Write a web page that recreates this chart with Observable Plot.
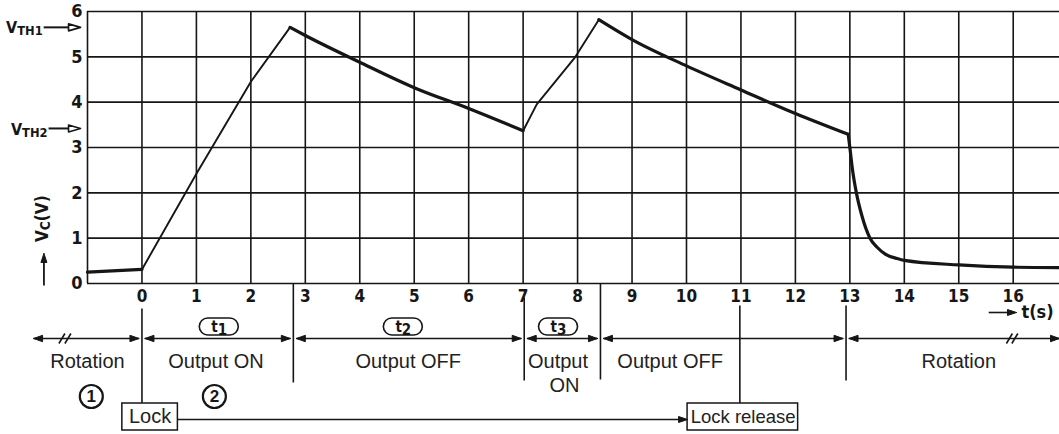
<!DOCTYPE html>
<html><head><meta charset="utf-8">
<script src="https://cdn.jsdelivr.net/npm/d3@7"></script>
<script src="https://cdn.jsdelivr.net/npm/@observablehq/plot@0.6"></script>
<style>
html,body{margin:0;padding:0;background:#fff;}
#chart svg{display:block;}
</style>
</head><body><div id="chart"></div>
<script>
// ---- data ----
const timeS   = [-1, 0, 1, 2, 2.72, 3, 4, 5, 6, 7, 7.25, 7.96, 8.39, 9, 10, 11, 12, 12.97, 13.0, 13.05, 13.12, 13.22, 13.37, 13.5, 13.65, 13.87, 14, 15, 16, 16.85];
const vcVolts = [0.25, 0.31, 2.42, 4.45, 5.65, 5.47, 4.88, 4.32, 3.86, 3.37, 3.95, 5, 5.82, 5.38, 4.8, 4.27, 3.75, 3.29, 3.0, 2.5, 2.0, 1.5, 1.0, 0.8, 0.65, 0.55, 0.51, 0.41, 0.36, 0.35];
const xTickLabels = [0,1,2,3,4,5,6,7,8,9,10,11,12,13,14,15,16];
const yTickLabels = [0,1,2,3,4,5,6];
const thresholdNames = ["VTH1", "VTH2"];
const thresholdVolts = [5.65, 3.42];
const phaseBounds = [-1.99, 0, 2.78, 7.02, 8.42, 12.93, 16.85];
const intervalNames = ["t1", "t2", "t3"];
const intervalCenters = [1.42, 4.80, 7.65];
const phaseNames = ["Rotation", "Output ON", "Output OFF", "Output", "ON", "Output OFF", "Rotation"];
const phaseNameX = [-1.0, 1.36, 4.89, 7.64, 7.76, 9.70, 15.0];
const stepNames = ["1", "2"];
const stepX = [-0.93, 1.33];
const lockTime = 0, releaseTime = 10.98;

// ---- layout helpers ----
const W = 1059, H = 434, mL = 87, mT = 11, mB = 151, mR = 0;
const xDom = [-1, 16.85], yDom = [0, 6];
const kx = (xDom[1]-xDom[0])/(W-mL-mR);     // data units per px (x)
const ky = (yDom[1]-yDom[0])/(H-mT-mB);     // data units per px (y)
const pyv = px => -(px - (H - mB)) * ky;    // px below axis -> data y

const ink = "#161616";
const tech = "DejaVu Sans Condensed, Liberation Sans Narrow, DejaVu Sans, sans-serif";
const sans = "Liberation Sans, Arial, sans-serif";

// split curve into rising / falling runs (new run also when the fall steepens sharply)
const curve = timeS.map((t, i) => ({t, v: vcVolts[i]}));
const runs = [];
let prevSlope = null;
for (let i = 1; i < curve.length; i++) {
  const slope = (curve[i].v - curve[i-1].v) / (curve[i].t - curve[i-1].t);
  const up = curve[i].v > curve[i-1].v + 0.2;
  const last = runs[runs.length - 1];
  const steepen = prevSlope !== null && Math.abs(slope) > 3*Math.abs(prevSlope) + 1;
  if (last && last.up === up && !steepen) last.pts.push(curve[i]);
  else runs.push({up, pts: [curve[i-1], curve[i]]});
  prevSlope = slope;
}
const risePts = [], fallPts = [];
runs.forEach((r, k) => r.pts.forEach(p => (r.up ? risePts : fallPts).push({...p, run: k})));

let hid = 0;
function head(x, y, dir, L = 9, hh = 3.2) {
  const id = hid++;
  return [{x, y, id}, {x: x - dir*L*kx, y: y + hh*ky, id}, {x: x - dir*L*kx, y: y - hh*ky, id}, {x, y, id}];
}

// row levels (px below the plot)
const yArrow = pyv(338), yLabel = pyv(361), yLabel2 = pyv(385), yStep = pyv(396);
const yBoxTop = pyv(403), yBoxBot = pyv(430), yBoxMid = pyv(416.5), yConn = pyv(419);

// interval arrows
const segs = [], heads = [];
for (let i = 0; i < phaseBounds.length - 1; i++) {
  const a = phaseBounds[i] + (i === 0 ? 0 : 3*kx);
  const b = phaseBounds[i+1] - (i === phaseBounds.length - 2 ? 0 : 3*kx);
  segs.push({x1: a, x2: b});
  heads.push(...head(a, yArrow, -1), ...head(b, yArrow, 1));
}
// boundary verticals
const verts = [
  {x: lockTime, y1: pyv(308), y2: yBoxTop},
  {x: phaseBounds[2], y1: 0, y2: pyv(382)},
  {x: phaseBounds[3], y1: pyv(297), y2: pyv(380)},
  {x: phaseBounds[4], y1: 0, y2: pyv(379)},
  {x: phaseBounds[5], y1: pyv(305), y2: pyv(380)},
  {x: releaseTime, y1: pyv(305), y2: yBoxTop}
];
// break marks
const breaks = [-1.47, -1.36, 15.93, 16.03].map(x => ({x1: x - 3*kx, y1: yArrow - 5*ky, x2: x + 3*kx, y2: yArrow + 5*ky}));

const boxes = [
  {x1: -0.36, x2: 0.66, label: "Lock", cx: 0.15, fs: 20},
  {x1: 10.02, x2: 12.05, label: "Lock release", cx: 11.04, fs: 18.5}
];
heads.push(...head(boxes[1].x1, yConn, 1, 9, 3));

// threshold arrows
const thr = thresholdNames.map((n, i) => ({n, v: thresholdVolts[i], x0: i === 0 ? -1.805 : -1.715}));
const openHeads = [];
thr.forEach(d => openHeads.push(...head(-1.128, d.v, 1, 12, 3.5)));

// y title arrow
const yTitleX = -1.80;
const yArrowTop = (H - mB - 253) * ky, yArrowBot = (H - mB - 285) * ky;
const upHeadPts = [
  {x: yTitleX, y: yArrowTop, id: 0},
  {x: yTitleX - 3*kx, y: yArrowTop - 9*ky, id: 0},
  {x: yTitleX + 3*kx, y: yArrowTop - 9*ky, id: 0},
  {x: yTitleX, y: yArrowTop, id: 0}
];
// t(s) arrow
const tY = pyv(312);
heads.push(...head(16.06, tY, 1, 9, 3));

const pills = intervalNames.map((n, i) => ({n, cx: intervalCenters[i], x1: intervalCenters[i] - 19.5*kx, x2: intervalCenters[i] + 19.5*kx, y1: pyv(335), y2: pyv(318)}));
const phases = phaseNames.map((n, i) => ({n, x: phaseNameX[i], y: n === "ON" ? yLabel2 : yLabel}));
const steps = stepNames.map((n, i) => ({n, x: stepX[i], y: yStep}));

const chart = Plot.plot({
  width: W, height: H,
  marginLeft: mL, marginRight: mR, marginTop: mT, marginBottom: mB,
  x: {domain: xDom, axis: null},
  y: {domain: yDom, axis: null},
  style: {background: "#fff", color: ink},
  marks: [
    // grid
    Plot.ruleX(d3.range(-1, 17), {x: d => d, y1: 0, y2: 6, stroke: ink, strokeWidth: 1.6}),
    Plot.ruleY(yTickLabels, {y: d => d, x1: -1, x2: xDom[1], stroke: ink, strokeWidth: 1.6}),
    // curve
    Plot.line(risePts, {x: "t", y: "v", z: "run", stroke: ink, strokeWidth: 1.9, strokeLinecap: "round", strokeLinejoin: "round"}),
    Plot.line(fallPts, {x: "t", y: "v", z: "run", curve: "monotone-x", stroke: ink, strokeWidth: 3.2, strokeLinecap: "round", strokeLinejoin: "round"}),
    // tick labels
    Plot.text(xTickLabels, {x: d => d, y: 0, dy: 13, text: d => String(d), fontSize: 17, fontWeight: "bold", fontFamily: tech, fill: ink}),
    Plot.text(yTickLabels, {x: -1, y: d => d, dx: -5, textAnchor: "end", text: d => String(d), fontSize: 18, fontWeight: "bold", fontFamily: tech, fill: ink}),
    // y title
    Plot.text(["VC(V)"], {x: -1.82, y: 1.43, rotate: -90, text: d => d, fontSize: 17, fontWeight: "bold", fontFamily: tech, fill: ink}),
    Plot.link([0], {x1: yTitleX, x2: yTitleX, y1: yArrowBot, y2: yArrowTop - 6*ky, stroke: ink, strokeWidth: 1.8}),
    Plot.line(upHeadPts, {x: "x", y: "y", z: "id", fill: ink, stroke: ink, strokeWidth: 1}),
    // thresholds
    Plot.text(thr, {x: d => d.x0, y: "v", text: "n", textAnchor: "end", dx: -1, dy: 1, fontSize: 16, fontWeight: "bold", fontFamily: tech, fill: ink}),
    Plot.link(thr, {x1: "x0", x2: -1.348, y1: "v", y2: "v", stroke: ink, strokeWidth: 2}),
    Plot.line(openHeads, {x: "x", y: "y", z: "id", fill: "#fff", stroke: ink, strokeWidth: 1.6}),
    // lower: verticals
    Plot.link(verts, {x1: "x", x2: "x", y1: "y1", y2: "y2", stroke: ink, strokeWidth: 1.6}),
    // interval arrows
    Plot.link(segs, {x1: "x1", x2: "x2", y1: yArrow, y2: yArrow, stroke: ink, strokeWidth: 1.4}),
    Plot.link(breaks, {x1: "x1", x2: "x2", y1: "y1", y2: "y2", stroke: ink, strokeWidth: 1.6}),
    // pills
    Plot.rect(pills, {x1: "x1", x2: "x2", y1: "y1", y2: "y2", rx: 8.5, fill: "#fff", stroke: ink, strokeWidth: 1.6}),
    Plot.text(pills, {x: "cx", y: (d) => (d.y1 + d.y2)/2, text: "n", fontSize: 15, fontWeight: "bold", fontFamily: tech, fill: ink}),
    // phase labels
    Plot.text(phases, {x: "x", y: "y", text: "n", fontSize: 20, fontFamily: sans, fill: "#222"}),
    Plot.dot(steps, {x: "x", y: "y", r: 11.5, stroke: ink, strokeWidth: 2.2, fill: "#fff"}),
    Plot.text(steps, {x: "x", y: "y", text: "n", fontSize: 17, fontWeight: "bold", fontFamily: sans, fill: ink}),
    // lock boxes
    Plot.link([0], {x1: boxes[0].x2, x2: boxes[1].x1 - 8*kx, y1: yConn, y2: yConn, stroke: ink, strokeWidth: 1.4}),
    Plot.rect(boxes, {x1: "x1", x2: "x2", y1: yBoxBot, y2: yBoxTop, fill: "#fff", stroke: ink, strokeWidth: 1.5}),
    Plot.text(boxes, {x: "cx", y: yBoxMid, text: "label", fontSize: d => d.fs, fontFamily: sans, fill: "#222"}),
    // t(s)
    Plot.link([0], {x1: 15.55, x2: 16.06 - 8*kx, y1: tY, y2: tY, stroke: ink, strokeWidth: 1.6}),
    Plot.text(["t(s)"], {x: 16.15, y: tY, text: d => d, textAnchor: "start", fontSize: 18, fontWeight: "bold", fontFamily: tech, fill: ink}),
    // filled arrowheads
    Plot.line(heads, {x: "x", y: "y", z: "id", fill: ink, stroke: ink, strokeWidth: 1})
  ]
});

// subscripts for V_C, V_TH, t_n
d3.select(chart).selectAll("text").each(function() {
  const el = d3.select(this);
  const s = el.text();
  const m = s.match(/^(V)(C|TH)(.*)$/) || s.match(/^(t)(\d)$/);
  if (!m) return;
  el.text(null);
  if (m[0].startsWith("V")) {
    el.append("tspan").text("V");
    el.append("tspan").attr("font-size", "0.8em").attr("dy", "0.15em").text(m[2] + (m[2] === "TH" ? m[3] : ""));
    if (m[2] === "C") el.append("tspan").attr("dy", "-0.15em").text(m[3]);
  } else {
    el.append("tspan").text(m[1]);
    el.append("tspan").attr("dy", "0.2em").text(m[2]);
  }
});

document.getElementById("chart").append(chart);
</script>
</body></html>
